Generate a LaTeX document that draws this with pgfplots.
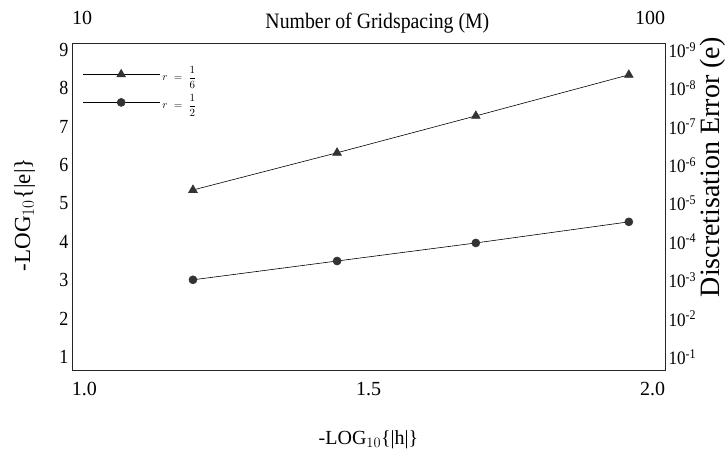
\documentclass[border=0pt]{standalone}
\usepackage{fontspec}
\setmainfont{Liberation Serif}
\newfontfamily\cond{Liberation Serif}[FakeStretch=0.9]
\usepackage{pgfplots}
\pgfplotsset{compat=1.18}
\definecolor{mk}{HTML}{333333}
\pgfplotstableread{
x y
1.204 5.35
1.447 6.32
1.681 7.28
1.939 8.35
}\tri
\pgfplotstableread{
x y
1.204 3.01
1.447 3.50
1.681 3.97
1.939 4.52
}\cir
\newcommand{\tp}[1]{10\textsuperscript{-#1}}
\begin{document}
\begin{tikzpicture}
\useasboundingbox (-72pt,-88pt) rectangle (656pt,370pt);
\begin{axis}[
  scale only axis, width=593pt, height=327pt,
  at={(0,0)}, anchor=south west,
  xmin=1, xmax=2, ymin=0.66, ymax=9.18,
  xtick={1,1.5,2},
  xticklabels={\makebox[0pt][l]{1.0},1.5,\makebox[0pt][r]{2.0}},
  ytick={1,2,3,4,5,6,7,8,9},
  xtick pos=bottom, ytick pos=left,
  major tick length=0pt,
  axis line style={line width=0.9pt, black!85},
  /pgf/number format/assume math mode=true,
  xticklabel style={font=\fontsize{20}{22}\selectfont, yshift=-9pt},
  yticklabel style={font=\cond\fontsize{20}{22}\selectfont},
  xlabel={-LOG$_{10}$\{\textbar h\textbar\}},
  ylabel={-LOG$_{10}$\{\textbar e\textbar\}},
  xlabel style={font=\fontsize{20}{22}\selectfont, at={(axis description cs:0.5,-0.214)}, anchor=center},
  ylabel style={font=\fontsize{23}{25}\selectfont, at={(axis description cs:-0.08,0.475)}, anchor=center},
  legend style={at={(axis description cs:0.018,0.935)}, anchor=north west, draw=none, fill=none,
    font=\fontsize{11}{12}\selectfont, row sep=8pt, inner sep=0pt},
  legend cell align=left,
  legend image code/.code={\draw[mark repeat=2,mark phase=2,#1] plot coordinates {(0pt,0pt) (38pt,0pt) (77pt,0pt)};},
]
\addplot[black, line width=0.6pt, mark=triangle*, mark size=5pt, mark options={fill=mk, draw=mk}] table {\tri};
\addlegendentry{$r\;=\;\displaystyle\frac{1}{6}$}
\addplot[black, line width=0.6pt, mark=*, mark size=4pt, mark options={fill=mk, draw=mk}] table {\cir};
\addlegendentry{$r\;=\;\displaystyle\frac{1}{2}$}
\end{axis}
\begin{axis}[
  scale only axis, width=593pt, height=327pt,
  at={(0,0)}, anchor=south west,
  xmin=1, xmax=2, ymin=0.66, ymax=9.18,
  axis x line*=top, axis y line*=right,
  axis line style={line width=0.9pt, black!85},
  major tick length=0pt,
  xtick={1,2},
  xticklabels={\makebox[0pt][l]{10},\makebox[0pt][r]{100}},
  ytick={1,2,3,4,5,6,7,8,9},
  yticklabels={\tp1,\tp2,\tp3,\tp4,\tp5,\tp6,\tp7,\tp8,\tp9},
  xticklabel style={font=\fontsize{20}{22}\selectfont, yshift=15pt},
  yticklabel style={font=\cond\fontsize{19}{21}\selectfont},
  /pgf/number format/assume math mode=true,
  ylabel={Discretisation Error (e)},
  ylabel style={font=\fontsize{28}{30}\selectfont, at={(axis description cs:1.081,0.62)}, anchor=center},
  title={Number of Gridspacing (M)},
  title style={font=\cond\fontsize{22}{24}\selectfont, at={(axis description cs:0.515,1.042)}, anchor=center},
]
\end{axis}
\end{tikzpicture}
\end{document}
